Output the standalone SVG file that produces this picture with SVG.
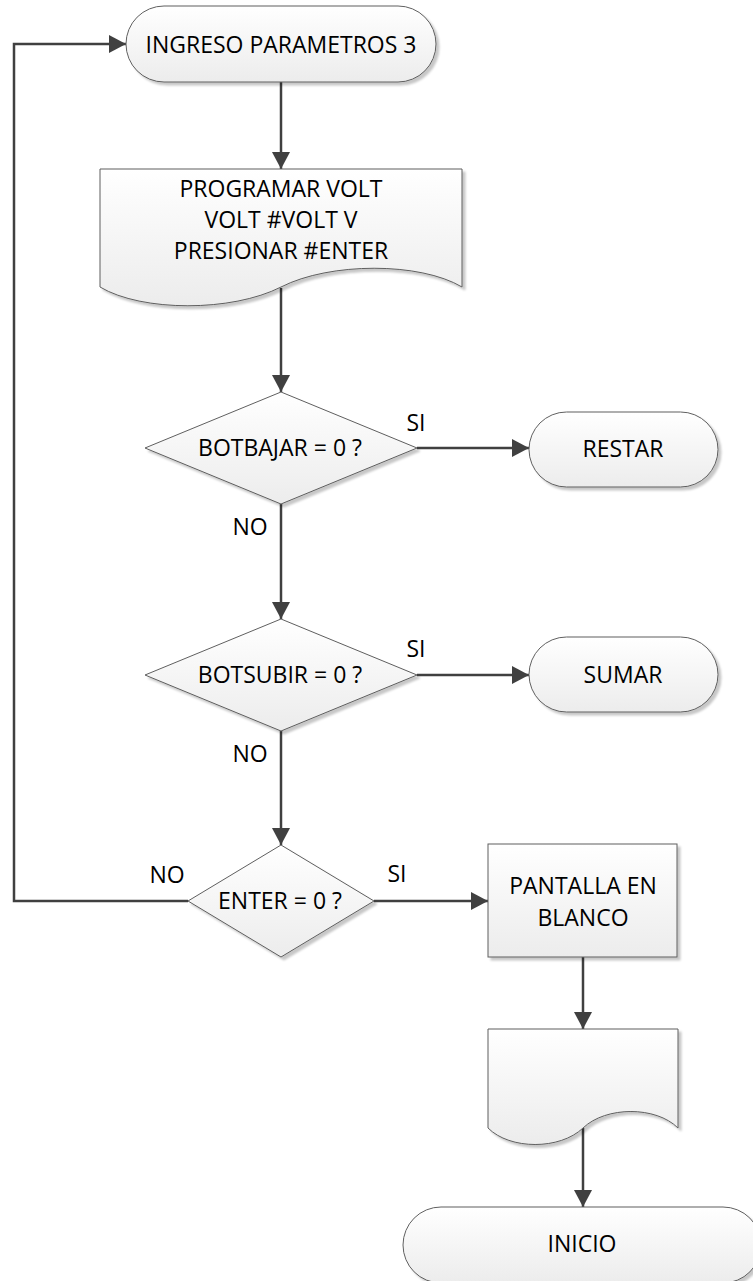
<svg xmlns="http://www.w3.org/2000/svg" width="753" height="1281" viewBox="0 0 753 1281">
  <defs>
    <linearGradient id="fillGrad" x1="0" y1="0" x2="0" y2="1">
      <stop offset="0" stop-color="#ffffff"/>
      <stop offset="1" stop-color="#ececec"/>
    </linearGradient>
    <filter id="shadow" x="-10%" y="-10%" width="130%" height="130%">
      <feDropShadow dx="3" dy="3" stdDeviation="1.2" flood-color="#000000" flood-opacity="0.22"/>
    </filter>
    <marker id="arrow" markerUnits="userSpaceOnUse" markerWidth="18" markerHeight="18" refX="17" refY="9" orient="auto">
      <path d="M0,0 L17,9 L0,18 Z" fill="#404040"/>
    </marker>
  </defs>
  <style>
    .shape { fill: url(#fillGrad); stroke: #5f5f5f; stroke-width: 1; filter: url(#shadow); }
    .conn { fill: none; stroke: #404040; stroke-width: 2.5; }
    .arr { marker-end: url(#arrow); }
    text { font-family: "Open Sans", "Liberation Sans", sans-serif; font-size: 23px; fill: #000000; text-anchor: middle; }
  </style>

  <rect width="753" height="1281" fill="#ffffff"/>

  <!-- connectors -->
  <g id="connectors">
    <path class="conn arr" d="M281,82 V169"/>
    <path class="conn arr" d="M281,288 V392"/>
    <path class="conn arr" d="M417,448 H529"/>
    <path class="conn arr" d="M281,504 V619"/>
    <path class="conn arr" d="M417,675 H529"/>
    <path class="conn arr" d="M281,731 V845"/>
    <path class="conn arr" d="M374,901 H488"/>
    <path class="conn arr" d="M188,901 H14 V44 H126"/>
    <path class="conn arr" d="M583,957 V1029"/>
    <path class="conn arr" d="M583,1128 V1207"/>
  </g>

  <!-- edge labels -->
  <g id="labels">
    <text x="416" y="431">SI</text>
    <text x="250" y="535">NO</text>
    <text x="416" y="657">SI</text>
    <text x="250" y="762">NO</text>
    <text x="167" y="883">NO</text>
    <text x="397" y="882">SI</text>
  </g>

  <g id="start">
    <rect class="shape" x="126" y="6" width="310" height="76" rx="38" ry="38"/>
    <text x="281" y="53">INGRESO PARAMETROS 3</text>
  </g>

  <g id="programVolt">
    <path class="shape" d="M100,169 H462 V287 C420,262 330,262 281,287 C232,312 142,312 100,287 Z"/>
    <text x="281" y="197">PROGRAMAR VOLT</text>
    <text x="281" y="228">VOLT #VOLT V</text>
    <text x="281" y="259">PRESIONAR #ENTER</text>
  </g>

  <g id="botBajar">
    <polygon class="shape" points="281,392 417,448 281,504 145,448"/>
    <text x="280" y="456">BOTBAJAR = 0 ?</text>
  </g>

  <g id="restar">
    <rect class="shape" x="529" y="412" width="189" height="75" rx="37.5" ry="37.5"/>
    <text x="623" y="457">RESTAR</text>
  </g>

  <g id="botSubir">
    <polygon class="shape" points="281,619 417,675 281,731 145,675"/>
    <text x="280" y="683">BOTSUBIR = 0 ?</text>
  </g>

  <g id="sumar">
    <rect class="shape" x="529" y="637" width="189" height="75" rx="37.5" ry="37.5"/>
    <text x="623" y="683">SUMAR</text>
  </g>

  <g id="enter">
    <polygon class="shape" points="281,845 374,901 281,957 188,901"/>
    <text x="280" y="909">ENTER = 0 ?</text>
  </g>

  <g id="pantalla">
    <rect class="shape" x="488" y="844" width="189" height="113"/>
    <text x="583" y="894">PANTALLA EN</text>
    <text x="583" y="926">BLANCO</text>
  </g>

  <g id="display">
    <path class="shape" d="M488,1029 H678 V1128 C656,1106 606,1106 583,1128 C560,1150 510,1150 488,1128 Z"/>
  </g>

  <g id="inicio">
    <rect class="shape" x="403" y="1207" width="358" height="76" rx="38" ry="38"/>
    <text x="582" y="1252">INICIO</text>
  </g>
</svg>
